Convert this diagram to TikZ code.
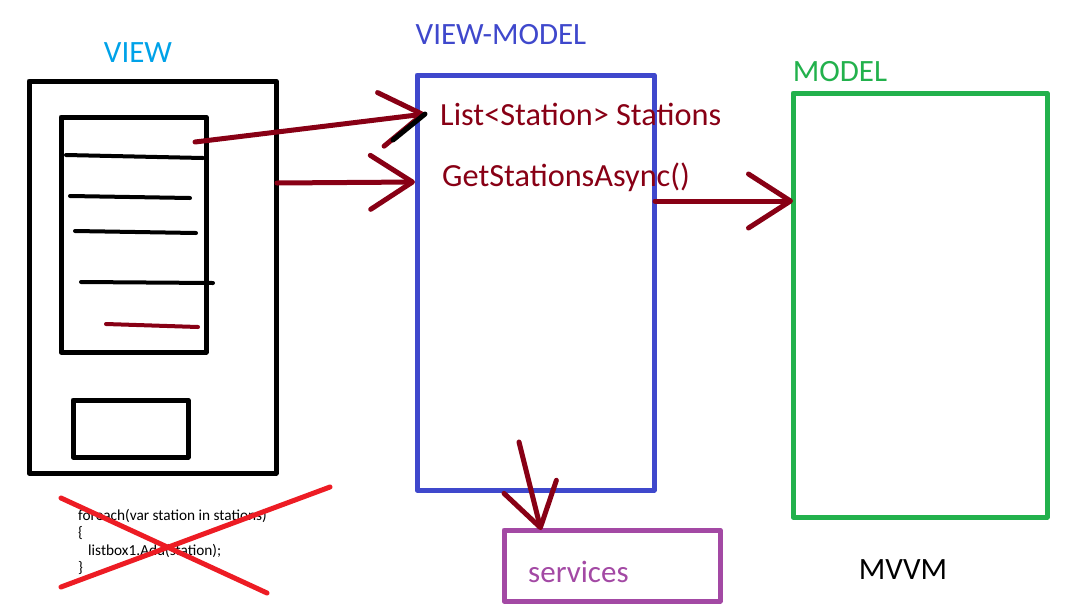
\documentclass[tikz,border=0pt]{standalone}
\usepackage{fontspec}
\setmainfont{Carlito}
\usetikzlibrary{arrows.meta}

\definecolor{viewblue}{RGB}{0,162,232}
\definecolor{vmblue}{RGB}{63,72,204}
\definecolor{modelgreen}{RGB}{34,177,76}
\definecolor{svcpurple}{RGB}{163,73,164}
\definecolor{wine}{RGB}{136,0,21}
\definecolor{crossred}{RGB}{237,28,36}

\begin{document}
\begin{tikzpicture}[x=1pt, y=-1pt, line join=round, line cap=round,
    box/.style={draw, line width=5pt, inner sep=0pt, outer sep=0pt},
    title/.style={font=\fontsize{31}{31}\selectfont, inner sep=0pt},
    member/.style={font=\fontsize{32.3}{32}\selectfont, inner sep=0pt, wine, anchor=west},
    flow/.style={wine, line width=5pt,
      -{Straight Barb[length=42pt, width=54pt, line width=5pt, line cap=round, line join=round]}}]

  \useasboundingbox (0,0) rectangle (1087,614);

  % boxes
  \node[box, minimum width=247, minimum height=392] (view) at (152.5,277) {};
  \node[box, minimum width=145, minimum height=235] (list) at (133.5,234.5) {};
  \node[box, minimum width=115, minimum height=57] (button) at (130.5,428.5) {};
  \node[box, vmblue, minimum width=237, minimum height=415] (vm) at (535.5,282.5) {};
  \node[box, modelgreen, minimum width=254, minimum height=424] (model) at (920,305) {};
  \node[box, svcpurple, minimum width=216, minimum height=71] (svc) at (612,565.5) {};

  % titles
  \node[title, viewblue] (viewlbl) at (138,53) {VIEW};
  \node[title, vmblue] (vmlbl) at (501,35) {VIEW-MODEL};
  \node[title, modelgreen] (modellbl) at (840,72) {MODEL};
  \node[title] (mvvm) at (903,570) {MVVM};
  \node[title, svcpurple, anchor=west] (svclbl) at (528,572) {services};

  % view-model members
  \node[member] (stations) at (440,114) {List<Station> Stations};
  \node[member] (getasync) at (442,177) {GetStationsAsync()};

  % list items
  \draw[line width=4pt] (66,155) -- (203,158);
  \draw[line width=4pt] (70,196) -- (190,198);
  \draw[line width=4pt] (75,231) -- (196,233);
  \draw[line width=4pt] (81,282) -- (213,283);
  \draw[line width=4pt, wine] (106,324) -- (198,327);

  % arrow ends
  \coordinate (item) at (195,142);
  \coordinate (stationsin) at (425,114);
  \coordinate (viewout) at (277,183);
  \coordinate (getin) at (415,182);
  \coordinate (vmout) at (655,201);
  \coordinate (vmdown) at (519,442);
  \coordinate (svcin) at (541,530);

  % bindings
  \draw[flow] (item) -- (stationsin);
  \draw[line width=5pt] (393,140) -- (stationsin);
  \draw[flow] (viewout) -- (getin);
  \draw[flow] (vmout) -- (model.west |- vmout);
  \draw[flow] (vmdown) -- (svcin);

  % crossed out code
  \node[anchor=north west, align=left, inner sep=0pt, font=\fontsize{15.3}{17.5}\selectfont] (code) at (78,509)
    {foreach(var station in stations)\\ \{\\ \hspace*{10pt}listbox1.Add(station);\\ \}};
  \draw[crossred, line width=5pt] (61,498) -- (267,593);
  \draw[crossred, line width=5pt] (61,587) -- (330,487);

\end{tikzpicture}
\end{document}
